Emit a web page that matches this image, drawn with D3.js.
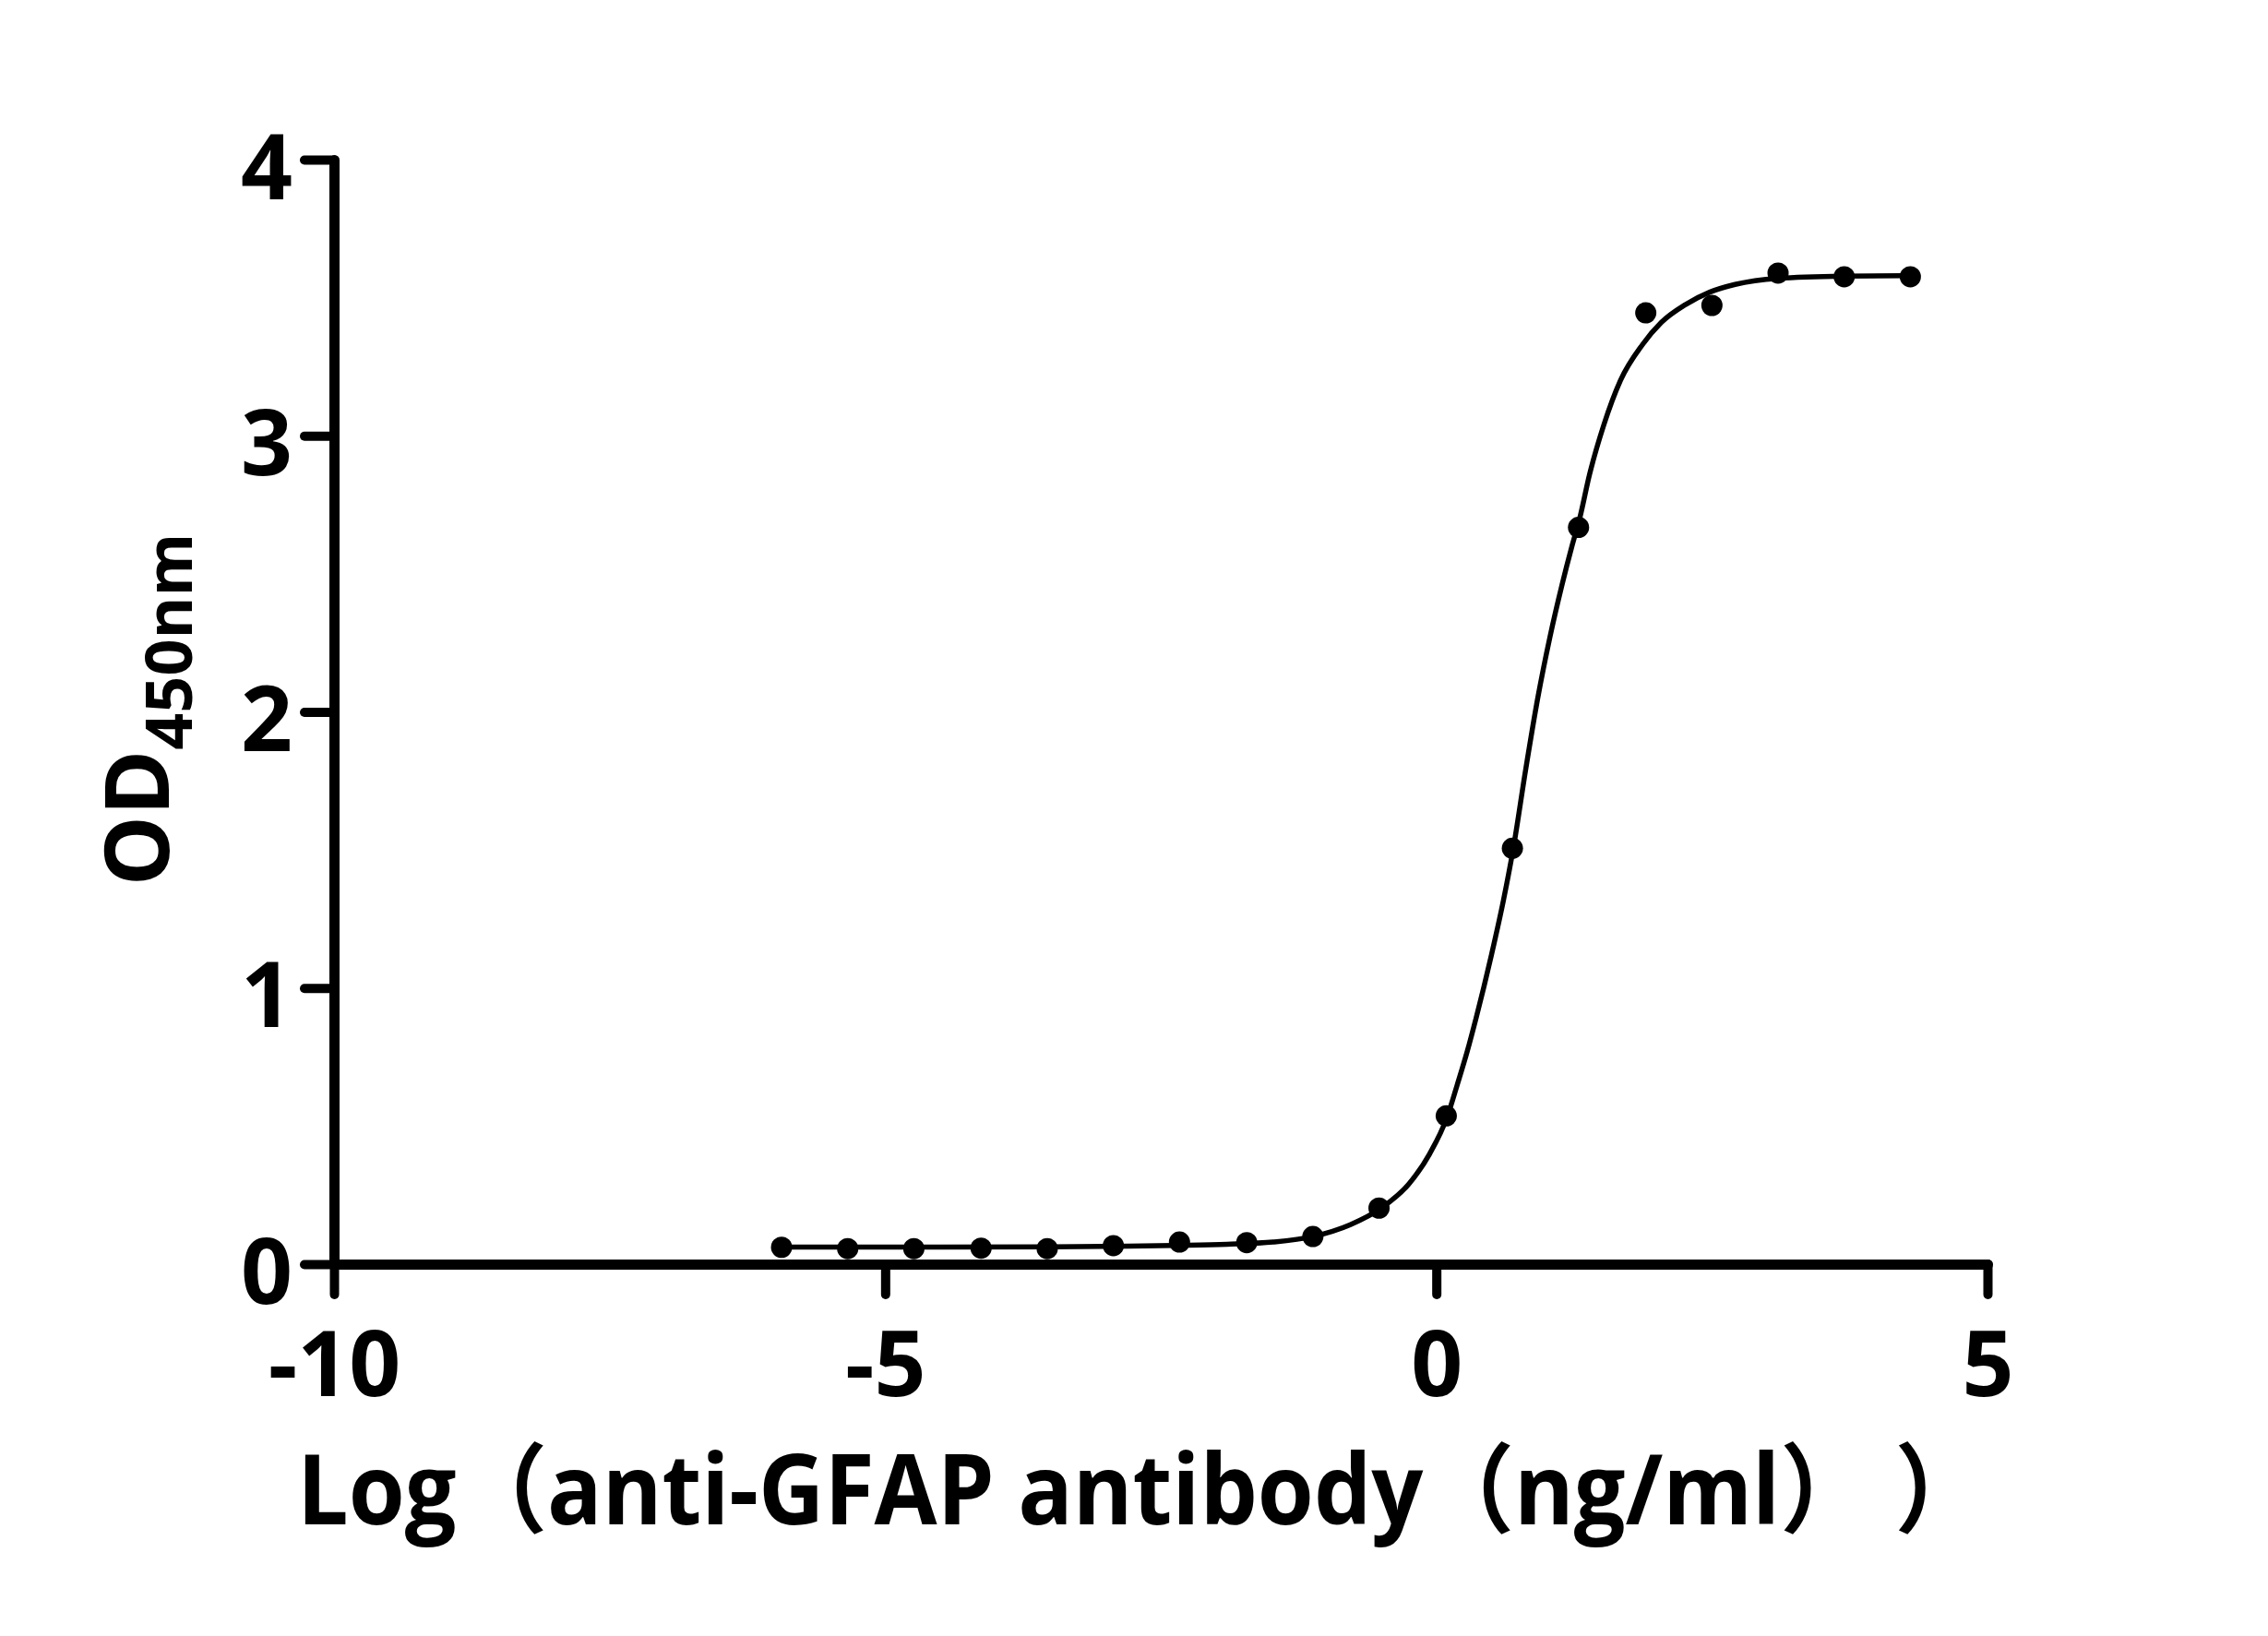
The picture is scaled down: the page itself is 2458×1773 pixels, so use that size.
<!DOCTYPE html>
<html>
<head>
<meta charset="utf-8">
<script src="https://cdn.jsdelivr.net/npm/d3@7"></script>
<style>
  html, body { margin: 0; padding: 0; background: #fff; }
  svg { display: block; }
</style>
</head>
<body>
<div class="chart"></div>
<script>
// log10 concentration of anti-GFAP antibody (ng/ml), 1:4 dilution series
const logConc = [-5.94, -5.34, -4.74, -4.13, -3.53, -2.93, -2.33, -1.72, -1.12, -0.52,
                 0.09, 0.69, 1.29, 1.90, 2.50, 3.10, 3.70, 4.30];
// measured OD450
const od450 = [0.061, 0.056, 0.056, 0.058, 0.056, 0.067, 0.080, 0.078, 0.100, 0.203,
               0.537, 1.506, 2.668, 3.445, 3.472, 3.589, 3.576, 3.576];

// fitted curve
const fitX = [-5.94, -4.5, -3.5, -2.8, -2.3, -1.9, -1.48, -1.12, -0.78, -0.50, -0.25, -0.06,
              0.10, 0.19, 0.28, 0.36, 0.50, 0.61, 0.70, 0.81, 0.92, 1.03, 1.14, 1.23, 1.30,
              1.39, 1.52, 1.67, 1.87, 2.04, 2.26, 2.48, 2.71, 3.10, 3.70, 4.30];
const fitY = [0.062, 0.062, 0.063, 0.065, 0.068, 0.072, 0.080, 0.100, 0.143, 0.203, 0.290, 0.400,
              0.535, 0.650, 0.770, 0.890, 1.120, 1.320, 1.510, 1.790, 2.050, 2.270, 2.460, 2.600, 2.700,
              2.860, 3.040, 3.200, 3.330, 3.410, 3.475, 3.520, 3.548, 3.570, 3.578, 3.580];

const xTicks = [-10, -5, 0, 5];
const yTicks = [0, 1, 2, 3, 4];
const xTitle = 'Log（anti-GFAP antibody（ng/ml） ）';
const yTitle = 'OD';
const yTitleSub = '450nm';

const width = 2458;
const height = 1773;
const font = '"Open Sans", "Noto Sans", "Noto Sans CJK SC", sans-serif';

const svg = d3.select('.chart').append('svg')
    .attr('width', width).attr('height', height)
    .attr('viewBox', '0 0 ' + width + ' ' + height);

svg.append('rect').attr('width', width).attr('height', height).attr('fill', '#fff');

// scales
const x = d3.scaleLinear().domain([-10, 5]).range([362, 2154]);
const y = d3.scaleLinear().domain([0, 4]).range([1370, 173]);

// x axis
const gx = svg.append('g')
    .attr('transform', 'translate(0,' + y(0) + ')')
    .call(d3.axisBottom(x).tickValues(xTicks).tickSize(33).tickSizeOuter(0)
        .tickFormat(function(d){ return String(d); }));

// y axis
const gy = svg.append('g')
    .attr('transform', 'translate(' + x(-10) + ',0)')
    .call(d3.axisLeft(y).tickValues(yTicks).tickSize(32).tickSizeOuter(0)
        .tickFormat(function(d){ return String(d); }));

[gx, gy].forEach(function(g){
    g.select('.domain')
        .attr('stroke', '#000')
        .attr('stroke-width', 11)
        .attr('stroke-linecap', 'round');
    g.selectAll('.tick line')
        .attr('stroke', '#000')
        .attr('stroke-width', 10)
        .attr('stroke-linecap', 'round');
    g.selectAll('.tick text')
        .attr('fill', '#000')
        .style('font-family', font)
        .style('font-weight', 700)
        .style('font-size', '98px');
});
gx.selectAll('.tick text').attr('y', 143).attr('dy', '0');
gy.selectAll('.tick text').attr('x', -45).attr('dy', '0.43em');

// fitted curve
const line = d3.line()
    .x(function(d){ return x(d[0]); })
    .y(function(d){ return y(d[1]); })
    .curve(d3.curveMonotoneX);

svg.append('path')
    .datum(d3.zip(fitX, fitY))
    .attr('fill', 'none')
    .attr('stroke', '#000')
    .attr('stroke-width', 5.5)
    .attr('d', line);

// data points
svg.selectAll('circle.pt')
    .data(d3.zip(logConc, od450))
    .enter()
    .append('circle')
    .attr('class', 'pt')
    .attr('cx', function(d){ return x(d[0]); })
    .attr('cy', function(d){ return y(d[1]); })
    .attr('r', 11.5)
    .attr('fill', '#000');

// axis titles
svg.append('text')
    .attr('x', 322)
    .attr('y', 1652)
    .attr('fill', '#000')
    .attr('textLength', 1830)
    .attr('lengthAdjust', 'spacingAndGlyphs')
    .style('font-family', font)
    .style('font-weight', 700)
    .style('font-size', '105px')
    .text(xTitle);

const yt = svg.append('text')
    .attr('transform', 'translate(183,769) rotate(-90)')
    .attr('text-anchor', 'middle')
    .attr('fill', '#000')
    .style('font-family', font)
    .style('font-weight', 700)
    .style('font-size', '96px');
yt.append('tspan').text(yTitle);
yt.append('tspan').attr('dy', 25).style('font-size', '70px').text(yTitleSub);
</script>
</body>
</html>
